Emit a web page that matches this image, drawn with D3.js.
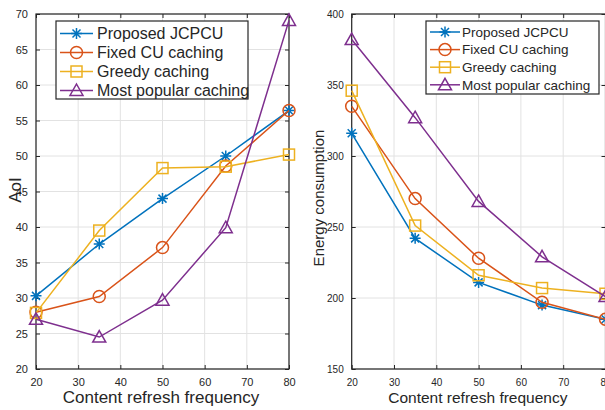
<!DOCTYPE html>
<html>
<head>
<meta charset="utf-8">
<script src="https://cdn.jsdelivr.net/npm/d3@7"></script>
<style>
  body { margin: 0; background: #fff; }
  svg text { font-family: "Liberation Sans", Arial, Helvetica, sans-serif; fill: #262626; }
</style>
</head>
<body>
<div id="chart"></div>
<script>
// data
const frequency = [20, 35, 50, 65, 80];
const seriesNames = ["Proposed JCPCU", "Fixed CU caching", "Greedy caching", "Most popular caching"];

const aoiProposed = [30.3, 37.6, 44.0, 50.0, 56.4];
const aoiFixed = [28.0, 30.2, 37.1, 48.6, 56.4];
const aoiGreedy = [27.9, 39.5, 48.3, 48.5, 50.2];
const aoiPopular = [27.0, 24.5, 29.7, 39.9, 69.1];

const energyProposed = [316, 242, 211, 195, 185];
const energyFixed = [335, 270, 228, 197, 185];
const energyGreedy = [346, 251, 216, 207, 203];
const energyPopular = [382, 327, 268, 229, 201];

const xTicks = [20, 30, 40, 50, 60, 70, 80];
const aoiTicks = [20, 25, 30, 35, 40, 45, 50, 55, 60, 65, 70];
const energyTicks = [150, 200, 250, 300, 350, 400];

// MATLAB default colours + markers
const colors = ["#0072BD", "#D95319", "#EDB120", "#7E2F8E"];
const markers = ["asterisk", "circle", "square", "triangle"];

const W = 605, H = 410;
const svg = d3.select("#chart").append("svg").attr("width", W).attr("height", H);

function drawMarker(g, type, color) {
  const m = g.append("g").attr("fill", "none").attr("stroke", color).attr("stroke-width", 1.5);
  if (type === "circle") m.append("circle").attr("r", 6);
  else if (type === "square") m.append("rect").attr("x", -5.5).attr("y", -5.5).attr("width", 11).attr("height", 11);
  else if (type === "triangle") m.append("path").attr("d", "M0,-6.5L6.5,5L-6.5,5Z");
  else {
    const r = 5.5, d = 4;
    m.append("path").attr("d", `M0,${-r}V${r}M${-r},0H${r}M${-d},${-d}L${d},${d}M${-d},${d}L${d},${-d}`);
  }
  return m;
}

function panel(opts) {
  const { left, right, top, bottom, yDomain, yTicks, series, yLabel, yLabelX, legend, tickSize, labelSize, legendSize, legendRow } = opts;
  const x = d3.scaleLinear().domain([20, 80]).range([left, right]);
  const y = d3.scaleLinear().domain(yDomain).range([bottom, top]);
  const g = svg.append("g");

  // grid
  g.append("g").selectAll("line").data(xTicks).join("line")
    .attr("x1", (d) => x(d)).attr("x2", (d) => x(d)).attr("y1", top).attr("y2", bottom)
    .attr("stroke", "#e2e2e2").attr("stroke-width", 1);
  g.append("g").selectAll("line").data(yTicks).join("line")
    .attr("x1", left).attr("x2", right).attr("y1", (d) => y(d)).attr("y2", (d) => y(d))
    .attr("stroke", "#e2e2e2").attr("stroke-width", 1);

  // axes with inward ticks (MATLAB style)
  const ax = (gen) => (s) => s.call(gen).call((s) => s.select(".domain").remove())
    .call((s) => s.selectAll(".tick line").attr("stroke", "#262626"))
    .call((s) => s.selectAll(".tick text").attr("font-size", tickSize).attr("fill", "#262626"));
  g.append("g").attr("transform", `translate(0,${bottom})`)
    .call(ax(d3.axisBottom(x).tickValues(xTicks).tickSizeInner(-4).tickPadding(8)))
    .selectAll(".tick text").attr("dy", "0.85em");
  g.append("g").attr("transform", `translate(0,${top})`)
    .call(ax(d3.axisTop(x).tickValues(xTicks).tickSizeInner(-4).tickFormat("")));
  g.append("g").attr("transform", `translate(${left},0)`)
    .call(ax(d3.axisLeft(y).tickValues(yTicks).tickSizeInner(-4).tickPadding(8)));
  g.append("g").attr("transform", `translate(${right},0)`)
    .call(ax(d3.axisRight(y).tickValues(yTicks).tickSizeInner(-4).tickFormat("")));

  // box
  g.append("rect").attr("x", left).attr("y", top).attr("width", right - left).attr("height", bottom - top)
    .attr("fill", "none").attr("stroke", "#262626").attr("stroke-width", 1.2);

  // lines + markers
  const line = d3.line().x((d, i) => x(frequency[i])).y((d) => y(d));
  series.forEach((vals, k) => {
    g.append("path").attr("d", line(vals)).attr("fill", "none")
      .attr("stroke", colors[k]).attr("stroke-width", 1.5);
    vals.forEach((v, i) => {
      drawMarker(g, markers[k], colors[k]).attr("transform", `translate(${x(frequency[i])},${y(v)})`);
    });
  });

  // labels
  svg.append("text").attr("x", (left + Math.min(right, W)) / 2 + opts.xLabelShift).attr("y", 403)
    .attr("text-anchor", "middle").attr("font-size", labelSize).text("Content refresh frequency");
  svg.append("text").attr("transform", `translate(${yLabelX},${opts.yLabelY}) rotate(-90)`)
    .attr("text-anchor", "middle").attr("font-size", opts.yLabelSize).text(yLabel);

  // legend
  const lg = svg.append("g").attr("transform", `translate(${legend.x},${legend.y})`);
  lg.append("rect").attr("width", legend.w).attr("height", legend.h)
    .attr("fill", "#fff").attr("stroke", "#262626").attr("stroke-width", 1.2);
  seriesNames.forEach((name, k) => {
    const cy = legend.first + k * legendRow;
    lg.append("line").attr("x1", legend.lx0).attr("x2", legend.lx1).attr("y1", cy).attr("y2", cy)
      .attr("stroke", colors[k]).attr("stroke-width", 1.5);
    drawMarker(lg, markers[k], colors[k]).attr("transform", `translate(${(legend.lx0 + legend.lx1) / 2},${cy})`);
    lg.append("text").attr("x", legend.tx).attr("y", cy).attr("dy", "0.35em")
      .attr("font-size", legendSize).attr("fill", "#000").text(name);
  });
}

panel({
  left: 36, right: 289, top: 14, bottom: 369,
  yDomain: [20, 70], yTicks: aoiTicks,
  series: [aoiProposed, aoiFixed, aoiGreedy, aoiPopular],
  yLabel: "AoI", yLabelX: 21, yLabelY: 190, yLabelSize: 17,
  tickSize: 11, labelSize: 17, legendSize: 16, legendRow: 19, xLabelShift: -1.5,
  legend: { x: 56, y: 21, w: 192, h: 78, first: 12.5, lx0: 4, lx1: 37, tx: 41 }
});

panel({
  left: 351.7, right: 605.5, top: 14, bottom: 369,
  yDomain: [150, 400], yTicks: energyTicks,
  series: [energyProposed, energyFixed, energyGreedy, energyPopular],
  yLabel: "Energy consumption", yLabelX: 324, yLabelY: 198, yLabelSize: 15,
  tickSize: 10, labelSize: 15.5, legendSize: 13.5, legendRow: 17.6, xLabelShift: -0.5,
  legend: { x: 426, y: 21, w: 173, h: 73, first: 11, lx0: 4, lx1: 34, tx: 36 }
});
</script>
</body>
</html>
